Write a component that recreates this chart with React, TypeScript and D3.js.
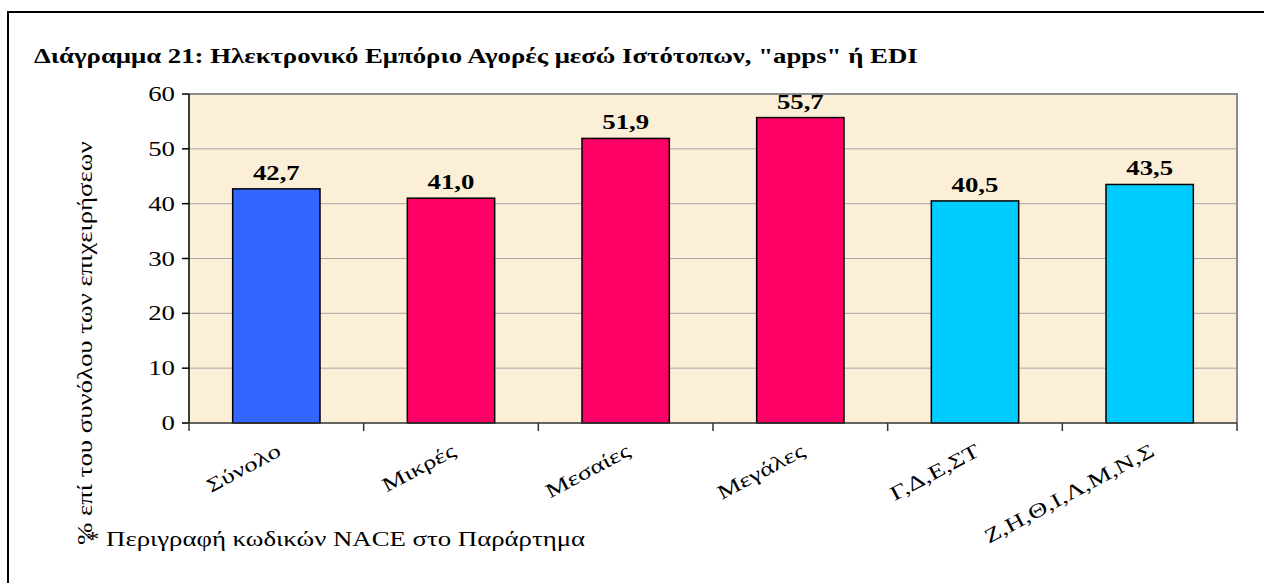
import React from 'react';
import * as d3 from 'd3';

const categories = ['Σύνολο', 'Μικρές', 'Μεσαίες', 'Μεγάλες', 'Γ,Δ,Ε,ΣΤ', 'Ζ,Η,Θ,Ι,Λ,Μ,Ν,Σ'];
const values = [42.7, 41.0, 51.9, 55.7, 40.5, 43.5];
const barColors = ['#3366FF', '#FF0066', '#FF0066', '#FF0066', '#00CCFF', '#00CCFF'];
const yTicks = [0, 10, 20, 30, 40, 50, 60];

const title = 'Διάγραμμα 21: Ηλεκτρονικό Εμπόριο Αγορές μεσώ Ιστότοπων, "apps" ή EDI';
const yTitle = '% επί του συνόλου των επιχειρήσεων';
const footnote = '* Περιγραφή κωδικών NACE στο Παράρτημα';

const W = 1264;
const H = 583;
const plot = { left: 189, right: 1237, top: 94, bottom: 423 };
const font = "'Liberation Serif', 'Times New Roman', 'DejaVu Serif', serif";
const SX = 1.34; // the source font is set wider than Liberation Serif

// text stretched along its own baseline
const Txt: React.FC<{
  x: number; y: number; rot?: number; size?: number; bold?: boolean;
  anchor?: 'start' | 'middle' | 'end'; children: React.ReactNode;
}> = ({ x, y, rot = 0, size = 20, bold = false, anchor = 'start', children }) => (
  <text transform={`translate(${x},${y}) rotate(${rot}) scale(${SX},1)`} textAnchor={anchor}
    fontSize={size} fontWeight={bold ? 'bold' : 'normal'}>{children}</text>
);

const App: React.FC = () => {
  const x = d3.scaleBand<string>()
    .domain(categories)
    .range([plot.left, plot.right])
    .paddingInner(0.5)
    .paddingOuter(0.25);

  const y = d3.scaleLinear()
    .domain([0, 60])
    .range([plot.bottom, plot.top]);

  const step = x.step();
  const fmt = (v: number) => v.toFixed(1).replace('.', ',');

  return (
    <svg width={W} height={H} style={{ position: 'absolute', left: 0, top: 0, fontFamily: font }}>
      {/* outer frame (only top and left edges are visible) */}
      <path d={`M8,${H + 5} V12 H${W + 5}`} fill="none" stroke="#000" strokeWidth={2} />

      <Txt x={34} y={63} bold>{title}</Txt>

      {/* plot area */}
      <rect x={plot.left} y={plot.top} width={plot.right - plot.left} height={plot.bottom - plot.top}
        fill="#FBEFD8" />
      {yTicks.filter(t => t > 0 && t < 60).map(t => (
        <line key={t} x1={plot.left} x2={plot.right} y1={y(t)} y2={y(t)} stroke="#A6A6A6" strokeWidth={1} />
      ))}
      <path d={`M${plot.left},${plot.top} H${plot.right} V${plot.bottom}`} fill="none" stroke="#8C8C8C" strokeWidth={2} />

      {/* bars */}
      {categories.map((c, i) => (
        <g key={c}>
          <rect x={x(c)} y={y(values[i])} width={x.bandwidth()} height={y(0) - y(values[i])}
            fill={barColors[i]} stroke="#000" strokeWidth={1.5} />
          <Txt x={(x(c) || 0) + x.bandwidth() / 2} y={y(values[i]) - 9} anchor="middle" bold>
            {fmt(values[i])}
          </Txt>
        </g>
      ))}

      {/* y axis */}
      <line x1={plot.left} x2={plot.left} y1={plot.top} y2={plot.bottom} stroke="#000" strokeWidth={1.5} />
      {yTicks.map(t => (
        <g key={t}>
          <line x1={plot.left - 7} x2={plot.left} y1={y(t)} y2={y(t)} stroke="#000" strokeWidth={1.5} />
          <Txt x={175} y={y(t) + 7} anchor="end">{t}</Txt>
        </g>
      ))}

      {/* x axis */}
      <line x1={plot.left - 7} x2={plot.right} y1={plot.bottom} y2={plot.bottom} stroke="#333" strokeWidth={1.5} />
      {d3.range(categories.length + 1).map(i => (
        <line key={i} x1={plot.left + i * step} x2={plot.left + i * step} y1={plot.bottom} y2={plot.bottom + 8}
          stroke="#333" strokeWidth={1.5} />
      ))}
      {categories.map(c => (
        <Txt key={c} x={(x(c) || 0) + x.bandwidth() / 2 + 6} y={455} rot={-28} anchor="end">{c}</Txt>
      ))}

      <Txt x={92} y={545} rot={-90}>{yTitle}</Txt>
      <Txt x={86} y={546}>{footnote}</Txt>
    </svg>
  );
};

export default App;
